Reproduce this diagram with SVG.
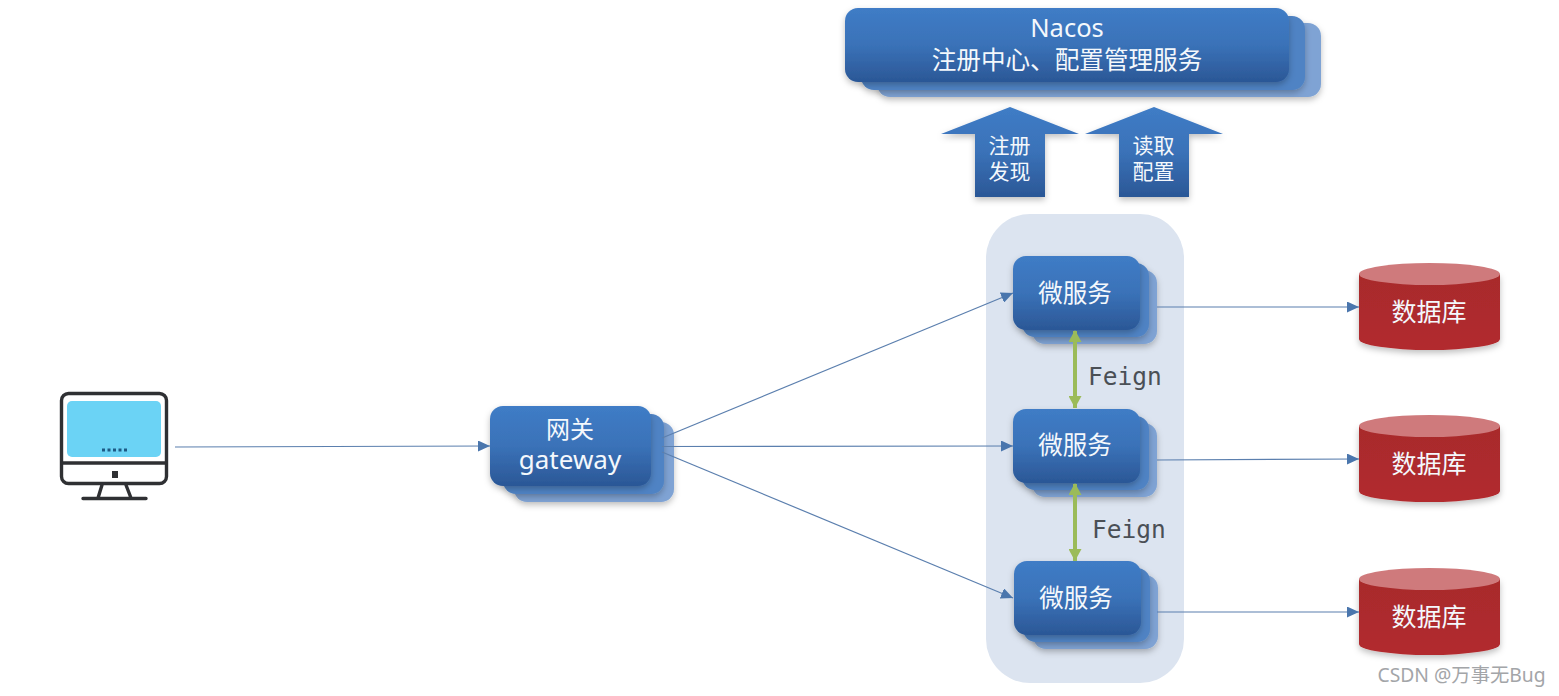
<svg xmlns="http://www.w3.org/2000/svg" xmlns:xlink="http://www.w3.org/1999/xlink" width="1559" height="696" viewBox="0 0 1559 696">
<style>
text{font-family:"Noto Sans","Noto Sans CJK SC","DejaVu Sans",sans-serif;text-anchor:middle;fill:#f4f8fc}
.front{fill:url(#blue)}
.mid{fill:#4f83c4}
.back{fill:#7fa3d4}
.line{fill:none;stroke:#5b7fae;stroke-width:1.2;marker-end:url(#tip)}
.feign{fill:none;stroke:#9bbb59;stroke-width:4;marker-start:url(#gtipS);marker-end:url(#gtip)}
.lbl{font-family:"DejaVu Sans Mono","Liberation Mono",monospace;font-size:24.500px;fill:#4a4f55;text-anchor:start}
.body{fill:url(#red)}
.top{fill:#cf7a7c}
.svc{font-size:24.500px}
.db{font-size:25px}
.dark{fill:none;stroke:#2f3033;stroke-width:3.4;stroke-linejoin:round;stroke-linecap:round}
</style>
<defs>
<linearGradient id="blue" x1="0" y1="0" x2="0" y2="1"><stop offset="0" stop-color="#3f7cc6"/><stop offset="0.5" stop-color="#3a72b8"/><stop offset="1" stop-color="#2b5796"/></linearGradient>
<linearGradient id="red" x1="0" y1="0" x2="0" y2="1"><stop offset="0" stop-color="#a82a2c"/><stop offset="1" stop-color="#b22c2e"/></linearGradient>
<filter id="sh" x="-10%" y="-20%" width="120%" height="150%"><feDropShadow dx="0" dy="3" stdDeviation="3" flood-color="#000" flood-opacity="0.25"/></filter>
<marker id="tip" markerUnits="userSpaceOnUse" markerWidth="13" markerHeight="11" refX="12" refY="5.500" orient="auto"><path d="M0 0L12 5.500L0 11Z" fill="#4a76ad"/></marker>
<marker id="gtip" markerUnits="userSpaceOnUse" markerWidth="13" markerHeight="13" refX="12" refY="6.500" orient="auto"><path d="M0 0L12 6.500L0 13Z" fill="#9bbb59"/></marker>
<marker id="gtipS" markerUnits="userSpaceOnUse" markerWidth="13" markerHeight="13" refX="1" refY="6.500" orient="auto"><path d="M12 0L0 6.500L12 13Z" fill="#9bbb59"/></marker>
</defs>
<rect width="1559" height="696" fill="#fff"/>

<g id="panel"><rect x="986" y="214" width="198" height="469" rx="44" fill="#dce4f0"/></g>

<g id="nacos">
<rect class="back" x="877" y="23" width="444" height="74" rx="13" filter="url(#sh)"/>
<rect class="mid" x="861" y="16" width="444" height="74" rx="13" filter="url(#sh)"/>
<rect class="front" x="845" y="8" width="444" height="74" rx="13" filter="url(#sh)"/>
<text x="1067" y="37" font-size="25.500">Nacos</text>
<text x="1067" y="69" font-size="24.600">注册中心、配置管理服务</text>
</g>

<g id="arrow-register">
<path class="front" d="M1010 107L1079 134H1045V197H975V134H941Z" filter="url(#sh)"/>
<text x="1009.500" y="153" font-size="21">注册</text>
<text x="1009.500" y="179" font-size="21">发现</text>
</g>
<g id="arrow-config">
<path class="front" d="M1154 107L1223 134H1189V197H1119V134H1085Z" filter="url(#sh)"/>
<text x="1153.500" y="153" font-size="21">读取</text>
<text x="1153.500" y="179" font-size="21">配置</text>
</g>

<g id="computer">
<rect x="67" y="401" width="94" height="56" rx="5" fill="#6bd3f5"/>
<rect class="dark" x="61.500" y="393.500" width="105" height="90" rx="7"/>
<path class="dark" d="M62 463H166M102 485L98 498M126 485L131 498M83 498.500H146"/>
<rect x="112" y="471" width="6" height="7" fill="#2f3033"/>
<path d="M102 450h26" stroke="#1c5a85" stroke-width="3" stroke-dasharray="3 2.500" fill="none"/>
</g>

<g id="gateway">
<rect class="back" x="514" y="422" width="160" height="80" rx="13" filter="url(#sh)"/>
<rect class="mid" x="503" y="414" width="161" height="80" rx="13" filter="url(#sh)"/>
<rect class="front" x="490" y="406" width="161" height="80" rx="13" filter="url(#sh)"/>
<text x="570" y="438" font-size="24">网关</text>
<text x="570" y="469" font-size="26">gateway</text>
</g>

<g id="service-1">
<rect class="back" x="1032" y="270" width="125" height="74" rx="13" filter="url(#sh)"/>
<rect class="mid" x="1022" y="263" width="127" height="74" rx="13" filter="url(#sh)"/>
<rect class="front" x="1013" y="256" width="127" height="74" rx="13" filter="url(#sh)"/>
<text class="svc" x="1075" y="302">微服务</text>
</g>
<g id="service-2">
<rect class="back" x="1032" y="423" width="125" height="74" rx="13" filter="url(#sh)"/>
<rect class="mid" x="1022" y="416" width="127" height="74" rx="13" filter="url(#sh)"/>
<rect class="front" x="1013" y="409" width="127" height="74" rx="13" filter="url(#sh)"/>
<text class="svc" x="1075" y="454">微服务</text>
</g>
<g id="service-3">
<rect class="back" x="1033" y="575" width="125" height="74" rx="13" filter="url(#sh)"/>
<rect class="mid" x="1023" y="568" width="127" height="74" rx="13" filter="url(#sh)"/>
<rect class="front" x="1014" y="561" width="127" height="74" rx="13" filter="url(#sh)"/>
<text class="svc" x="1076" y="607">微服务</text>
</g>

<g id="db-1">
<path class="body" d="M1359 274V339A70.500 11 0 0 0 1500 339V274Z" filter="url(#sh)"/>
<ellipse class="top" cx="1429.500" cy="274" rx="70.500" ry="11"/>
<text class="db" x="1429" y="321">数据库</text>
</g>
<g id="db-2">
<path class="body" d="M1359 426V491A70.500 11 0 0 0 1500 491V426Z" filter="url(#sh)"/>
<ellipse class="top" cx="1429.500" cy="426" rx="70.500" ry="11"/>
<text class="db" x="1429" y="473">数据库</text>
</g>
<g id="db-3">
<path class="body" d="M1359 579V644A70.500 11 0 0 0 1500 644V579Z" filter="url(#sh)"/>
<ellipse class="top" cx="1429.500" cy="579" rx="70.500" ry="11"/>
<text class="db" x="1429" y="626">数据库</text>
</g>

<g id="connectors">
<path class="line" d="M175 447L490 446"/>
<path class="line" d="M662 438L1013 293"/>
<path class="line" d="M662 446.500L1013 446"/>
<path class="line" d="M662 452L1013 598"/>
<path class="line" d="M1157 307L1359 307"/>
<path class="line" d="M1157 460L1359 459"/>
<path class="line" d="M1157 612L1359 612"/>
<path class="feign" d="M1075 331V408"/>
<path class="feign" d="M1075 484V561"/>
</g>

<g id="labels">
<text class="lbl" x="1088" y="385">Feign</text>
<text class="lbl" x="1092" y="538">Feign</text>
<text x="1461.500" y="682" font-size="19.300" style="fill:#a3a5a8">CSDN @万事无Bug</text>
</g>
</svg>
